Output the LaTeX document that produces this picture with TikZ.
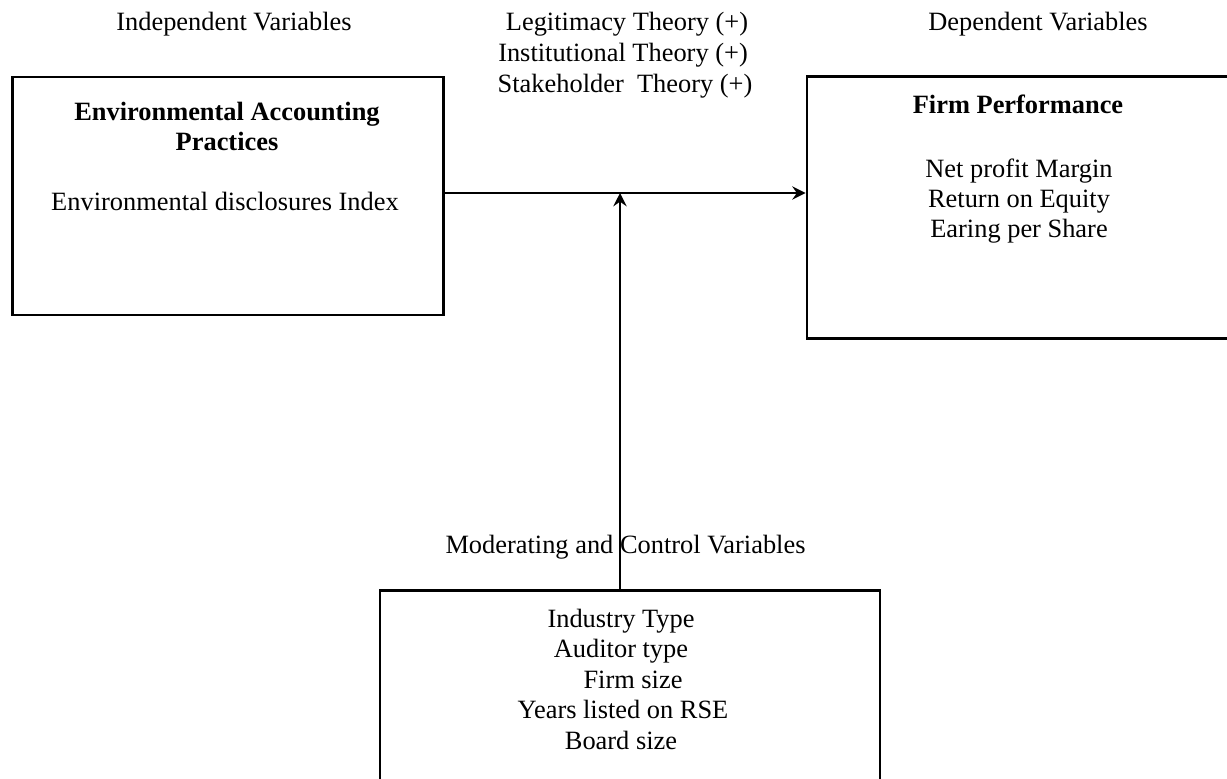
\documentclass[tikz,border=0pt]{standalone}
\usepackage{fontspec}
\setmainfont{Liberation Serif}
\usetikzlibrary{arrows.meta,positioning}

\tikzset{
	varbox/.style={draw, line width=2.2pt, inner sep=0pt},
	link/.style={line width=1.4pt, -{Stealth[length=10pt,width=10pt,inset=3.5pt]}},
	lbl/.style={inner sep=0pt, anchor=base, font=\fontsize{19.8pt}{23.8pt}\selectfont},
	boxhead/.style={lbl, font=\fontsize{19.8pt}{23.8pt}\selectfont\bfseries},
}

\begin{document}
\begin{tikzpicture}[x=0.75pt, y=-0.75pt]
			\useasboundingbox (0,0) rectangle (1227,778);
			%headings
			\node[lbl] (indep) at (234,30) {Independent Variables};
			\node[lbl] (dep) at (1038,30) {Dependent Variables};
			\foreach \t/\x [count=\i] in {Legitimacy Theory (+)/627, Institutional Theory (+)/623, Stakeholder\ \ Theory (+)/625}{
				\node[lbl] (theory\i) at (\x, 0.5+30.5*\i) {\t};
			}
			
			%boxes
			\node[varbox, minimum width=323pt, minimum height=178.5pt] (eap) at (228,196) {};
			\node[varbox, minimum width=316.5pt, minimum height=196pt] (fp) at (1018,207.5) {};
			\node[varbox, minimum width=375pt, minimum height=157pt] (mcv) at (630,695.5) {};
			
			%box texts
			\node[boxhead] (eaptitle1) at (227,120) {Environmental Accounting};
			\node[boxhead] (eaptitle2) at (227,150) {Practices};
			\node[lbl] (eapitem) at (225,210) {Environmental disclosures Index};
			\node[boxhead] (fptitle) at (1018,113) {Firm Performance};
			\foreach \t [count=\i] in {Net profit Margin, Return on Equity, Earing per Share}{
				\node[lbl] (fpitem\i) at (1019, 147+30*\i) {\t};
			}
			\foreach \t/\x [count=\i] in {Industry Type/621, Auditor type/621, Firm size/633, Years listed on RSE/623, Board size/621}{
				\node[lbl] (mcvitem\i) at (\x, 596.5+30.5*\i) {\t};
			}
			
			%links
			\coordinate (mid) at (620,193);
			\draw[link] (eap.east |- mid) -- (fp.west |- mid);
			\draw[link] (mcv.north -| mid) -- (mid);
			\node[lbl] (mcvlabel) at (625.5,553) {Moderating and Control Variables};
		\end{tikzpicture}
\end{document}
